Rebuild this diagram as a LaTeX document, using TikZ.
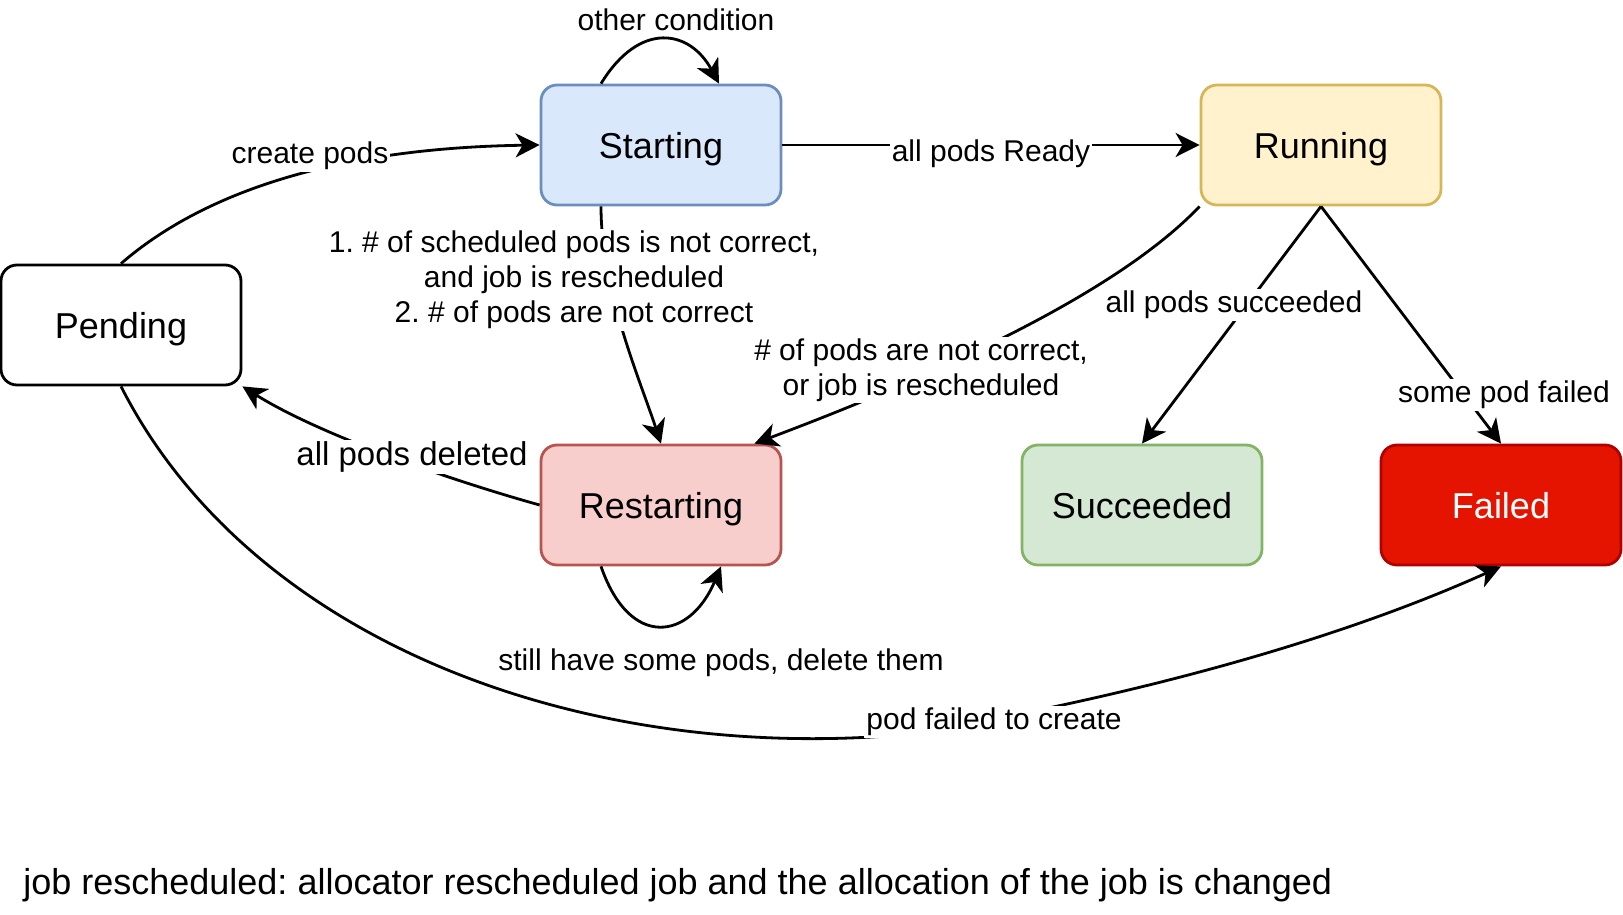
\documentclass[tikz,border=0pt]{standalone}
\usepackage{fontspec}
\setmainfont{Liberation Sans}
\usetikzlibrary{arrows.meta}
\definecolor{startfill}{HTML}{DAE8FC}
\definecolor{startdraw}{HTML}{6C8EBF}
\definecolor{runfill}{HTML}{FFF2CC}
\definecolor{rundraw}{HTML}{D6B656}
\definecolor{restfill}{HTML}{F8CECC}
\definecolor{restdraw}{HTML}{B85450}
\definecolor{succfill}{HTML}{D5E8D4}
\definecolor{succdraw}{HTML}{82B366}
\definecolor{failfill}{HTML}{E51400}
\definecolor{faildraw}{HTML}{B20000}
\frenchspacing
\begin{document}
\begin{tikzpicture}[x=0.5pt,y=-0.5pt,
  state/.style={draw, rounded corners=8pt, line width=1.4pt, minimum width=120pt, minimum height=60pt, inner sep=0pt, text depth=0pt, font=\fontsize{18}{21.6}\selectfont},
  lbl/.style={fill=white, inner sep=1pt, align=center, font=\fontsize{15}{17.5}\selectfont},
  edge/.style={line width=1.4pt, -{Stealth[length=12pt,width=12pt,inset=3.5pt]}}]
\useasboundingbox (0,0) rectangle (1623,915);

% states
\node[state, fill=startfill, draw=startdraw] (Starting) at (661,145) {Starting};
\node[state, fill=runfill, draw=rundraw] (Running) at (1321,145) {Running};
\node[state, fill=white, draw=black] (Pending) at (121,325) {Pending};
\node[state, fill=restfill, draw=restdraw] (Restarting) at (661,505) {Restarting};
\node[state, fill=succfill, draw=succdraw] (Succeeded) at (1142,505) {Succeeded};
\node[state, fill=failfill, draw=faildraw, text=white] (Failed) at (1501,505) {Failed};

% connectors
\draw[edge] (Pending.north) .. controls (200,195) and (330,148) .. (Starting.west);
\draw[edge] ([xshift=-30pt]Starting.north) .. controls (640,20) and (690,30) .. ([xshift=29pt]Starting.north);
\draw[edge] (Starting.east) -- (Running.west);
\draw[edge] ([xshift=-30pt]Starting.south) .. controls (601,290) and (640,380) .. (Restarting.north);
\draw[edge] (Running.south west) .. controls (1120,290) and (950,370) .. ([xshift=-14pt]Restarting.north east);
\draw[edge] (Running.south) -- (Succeeded.north);
\draw[edge] (Running.south) -- (Failed.north);
\draw[edge] (Restarting.west) .. controls (450,480) and (320,435) .. (Pending.south east);
\draw[edge] ([xshift=-30pt]Restarting.south) .. controls (630,650) and (690,640) .. ([xshift=30pt]Restarting.south);
\coordinate (mid) at (912,734);
\draw[edge] (Pending.south) .. controls (250,640) and (580,765) .. (mid) .. controls (1170,690) and (1360,630) .. (Failed.south);

% labels
\node[lbl] (lcreate) at (310,156) {create pods};
\node[lbl, fill=none] (lother) at (676,20) {other condition};
\node[lbl] (lready) at (991,154) {all pods Ready};
\node[lbl] (lsched) at (574,280) {1. \# of scheduled pods is not correct,\\and job is rescheduled\\2. \# of pods are not correct};
\node[lbl] (lnotcorrect) at (921,370) {\# of pods are not correct,\\or job is rescheduled};
\node[lbl] (lsucc) at (1234,305) {all pods succeeded};
\node[lbl] (lfail) at (1504,395) {some pod failed};
\node[lbl, font=\fontsize{16.5}{19.8}\selectfont] (ldeleted) at (412,457) {all pods deleted};
\node[lbl, fill=none] (lstill) at (721,663) {still have some pods, delete them};
\node[lbl] (lpodfail) at (994,722) {pod failed to create};
\node[anchor=west, inner sep=0pt, font=\fontsize{18}{21.6}\selectfont] (note) at (23,885) {job rescheduled: allocator rescheduled job and the allocation of the job is changed};
\end{tikzpicture}
\end{document}
